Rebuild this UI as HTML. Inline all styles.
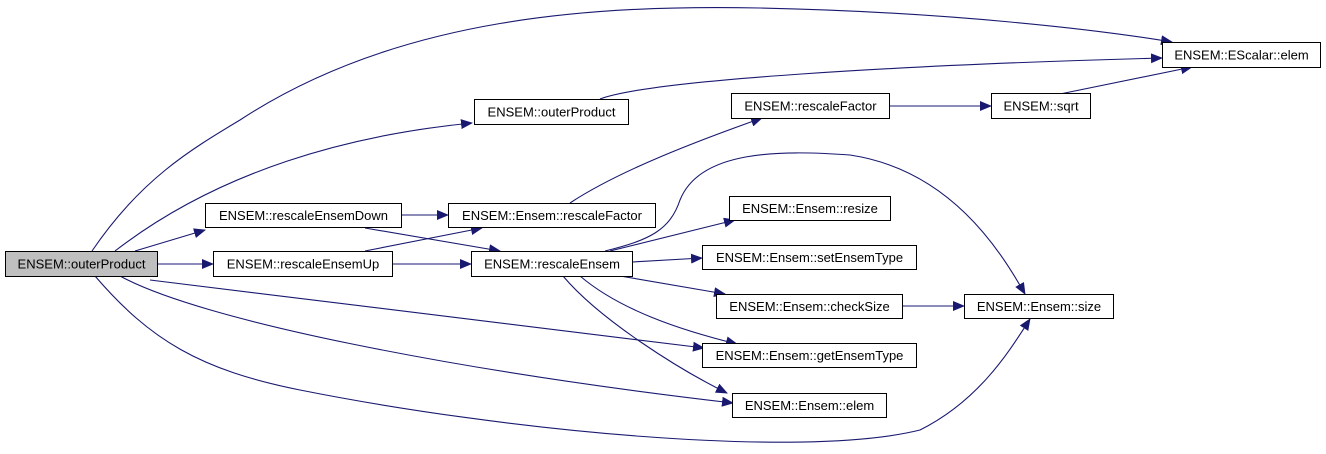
<!DOCTYPE html>
<html><head><meta charset="utf-8"><style>
html,body{margin:0;padding:0;background:#fff;}
svg{display:block;}
text{font-family:"Liberation Sans",Arial,sans-serif;font-size:13px;fill:#000;}
</style></head><body>
<svg width="1326" height="454" viewBox="0 0 1326 454" xmlns="http://www.w3.org/2000/svg">
<defs>
<marker id="a" markerWidth="12" markerHeight="10" refX="11" refY="5" orient="auto" markerUnits="userSpaceOnUse">
<path d="M0,0 L12,5 L0,10 z" fill="#191970"/>
</marker>
</defs>
<g fill="none" stroke="#191970" stroke-width="1.1" marker-end="url(#a)">
<path d="M92,251 C140,180 190,150 240,120 C400,15 600,5 760,8 C950,12 1100,30 1172,42"/>
<path d="M115,251 C220,170 350,135 472,123"/>
<path d="M135,251 L205,230"/>
<path d="M157,264 L213,264"/>
<path d="M150,280 L704,348"/>
<path d="M120,276 C200,320 450,370 733,403"/>
<path d="M95,276 C150,340 200,370 300,390 C500,430 800,460 920,430 C980,400 1010,350 1030,319"/>
<path d="M401,215 L448,215"/>
<path d="M365,228 L500,251"/>
<path d="M365,251 L482,228"/>
<path d="M392,264 L471,264"/>
<path d="M600,99 C650,80 900,65 1162,58"/>
<path d="M570,203 C620,170 700,140 762,118"/>
<path d="M889,106 L991,106"/>
<path d="M1060,94 L1192,67"/>
<path d="M610,251 L735,220"/>
<path d="M632,262 L702,258"/>
<path d="M620,276 L725,294"/>
<path d="M580,276 C620,310 680,330 737,344"/>
<path d="M563,276 C600,320 680,370 727,393"/>
<path d="M605,251 C650,240 670,230 680,200 C700,150 780,150 850,155 C950,170 1000,250 1025,294"/>
<path d="M902,306 L964,306"/>
</g>
<g stroke="#000" stroke-width="1">
<rect x="5.5" y="251.5" width="152" height="25" fill="#bfbfbf"/>
<rect x="1162.5" y="42.5" width="158" height="25" fill="#fff"/>
<rect x="474.5" y="99.5" width="154" height="25" fill="#fff"/>
<rect x="731.5" y="93.5" width="158" height="25" fill="#fff"/>
<rect x="991.5" y="93.5" width="99" height="25" fill="#fff"/>
<rect x="205.5" y="203.5" width="196" height="24" fill="#fff"/>
<rect x="448.5" y="203.5" width="207" height="24" fill="#fff"/>
<rect x="729.5" y="196.5" width="161" height="24" fill="#fff"/>
<rect x="213.5" y="251.5" width="179" height="25" fill="#fff"/>
<rect x="471.5" y="251.5" width="161" height="25" fill="#fff"/>
<rect x="702.5" y="245.5" width="214" height="24" fill="#fff"/>
<rect x="716.5" y="294.5" width="186" height="24" fill="#fff"/>
<rect x="964.5" y="294.5" width="149" height="24" fill="#fff"/>
<rect x="702.5" y="343.5" width="214" height="24" fill="#fff"/>
<rect x="732.5" y="393.5" width="154" height="24" fill="#fff"/>
</g>
<g text-anchor="middle">
<text x="81.5" y="268.5">ENSEM::outerProduct</text>
<text x="1241.5" y="59.5">ENSEM::EScalar::elem</text>
<text x="551.5" y="116.5">ENSEM::outerProduct</text>
<text x="810.5" y="110.5">ENSEM::rescaleFactor</text>
<text x="1041" y="110.5">ENSEM::sqrt</text>
<text x="303.5" y="220">ENSEM::rescaleEnsemDown</text>
<text x="552" y="220">ENSEM::Ensem::rescaleFactor</text>
<text x="810" y="213">ENSEM::Ensem::resize</text>
<text x="303" y="268.5">ENSEM::rescaleEnsemUp</text>
<text x="552" y="268.5">ENSEM::rescaleEnsem</text>
<text x="809.5" y="262">ENSEM::Ensem::setEnsemType</text>
<text x="809.5" y="311">ENSEM::Ensem::checkSize</text>
<text x="1039" y="311">ENSEM::Ensem::size</text>
<text x="809.5" y="360">ENSEM::Ensem::getEnsemType</text>
<text x="809.5" y="410">ENSEM::Ensem::elem</text>
</g>
</svg>
</body></html>
